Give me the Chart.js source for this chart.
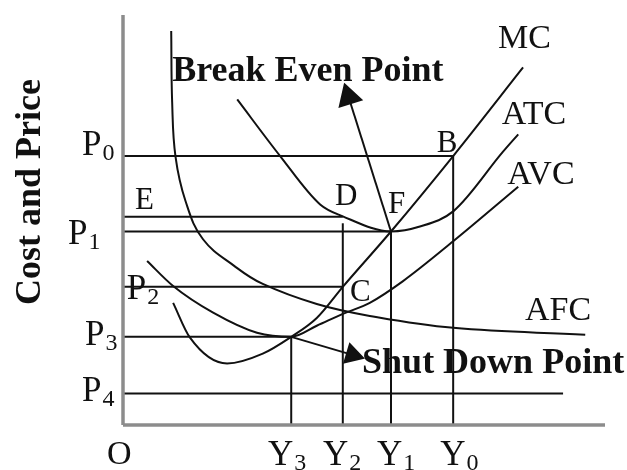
<!DOCTYPE html>
<html lang="en">
<head>
  <meta charset="UTF-8" />
  <title>Break Even and Shut Down Point</title>
  <script src="https://cdn.jsdelivr.net/npm/chart.js"></script>
  <style>
    html, body { margin: 0; padding: 0; background: #fff; }
    #wrap { width: 627px; height: 470px; }
  </style>
</head>
<body>
  <div id="wrap"><canvas id="costChart" width="627" height="470"></canvas></div>

  <script>
    // price levels (cost axis) and output levels (quantity axis)
    const priceLabels = ['P0', 'P1', 'P2', 'P3', 'P4'];
    const priceLevels = [65.6, 47.2, 33.7, 21.5, 7.7];
    const outputLabels = ['Y3', 'Y2', 'Y1', 'Y0'];
    const outputLevels = [34.9, 45.6, 55.6, 68.5];
    const levelE = 50.8;
    const p4End = 91.3;
    const y2Top = 49.2;

    // cost curves
    const mcX = [10.4, 13.9, 21.6, 29.0, 34.9, 40.2, 45.6, 55.6, 68.5, 83.0];
    const mcY = [29.8, 21.3, 15.0, 17.4, 21.5, 26.1, 33.7, 47.2, 65.6, 87.2];

    const atcX = [23.7, 32.6, 40.9, 45.6, 55.6, 61.6, 68.5, 78.8, 82.0];
    const atcY = [79.4, 65.6, 53.8, 50.9, 47.2, 48.4, 52.1, 66.6, 70.9];

    const avcX = [5.0, 10.4, 18.7, 27.8, 34.9, 40.2, 45.6, 51.2, 58.1, 68.5, 82.0];
    const avcY = [40.0, 33.9, 27.4, 22.5, 21.5, 24.2, 27.1, 29.8, 35.1, 44.8, 58.1];

    const afcX = [10.0, 10.2, 10.9, 13.0, 16.6, 23.2, 29.0, 40.2, 51.2, 68.5, 95.9];
    const afcY = [96.1, 78.7, 65.4, 54.5, 45.3, 38.7, 34.4, 29.5, 26.6, 23.7, 22.0];

    // arrows: from the marked point to the arrow head
    const breakEvenArrow = [[55.6, 47.2], [46.8, 80.0]];
    const shutDownArrow = [[34.9, 21.5], [47.6, 17.1]];

    const ink = '#111';
    const serif = '"Liberation Serif", "Times New Roman", serif';

    function pts(xs, ys) {
      return xs.map((x, i) => ({ x: x, y: ys[i] }));
    }

    function seg(x1, y1, x2, y2, color, width) {
      return {
        data: [{ x: x1, y: y1 }, { x: x2, y: y2 }],
        showLine: true,
        borderColor: color || ink,
        borderWidth: width || 2,
        pointRadius: 0,
        clip: false
      };
    }

    function curve(xs, ys, smooth) {
      const ds = {
        data: pts(xs, ys),
        showLine: true,
        borderColor: ink,
        borderWidth: 2,
        pointRadius: 0,
        clip: false
      };
      if (smooth) ds.tension = 0.4;
      else ds.cubicInterpolationMode = 'monotone';
      return ds;
    }

    function arrow(a, r) {
      const dx = a[1][0] - a[0][0];
      const dy = a[1][1] - a[0][1];
      // screen angle, x unit ~4.82px and y unit ~4.13px
      const ang = Math.atan2(dx * 4.82, dy * 4.13) * 180 / Math.PI;
      return {
        data: [{ x: a[0][0], y: a[0][1] }, { x: a[1][0], y: a[1][1] }],
        showLine: true,
        borderColor: ink,
        borderWidth: 2,
        backgroundColor: ink,
        pointBorderColor: ink,
        pointStyle: 'triangle',
        pointRadius: [0, r],
        pointRotation: [0, ang],
        clip: false
      };
    }

    const datasets = [];

    // axes
    datasets.push(seg(0, 0, 0, 100, '#8c8c8c', 3.5));
    datasets.push(seg(0, 0, 100, 0, '#8c8c8c', 3.5));

    // horizontal guide lines
    datasets.push(seg(0, priceLevels[0], outputLevels[3], priceLevels[0]));
    datasets.push(seg(0, levelE, outputLevels[1], levelE));
    datasets.push(seg(0, priceLevels[1], outputLevels[2], priceLevels[1]));
    datasets.push(seg(0, priceLevels[2], outputLevels[1], priceLevels[2]));
    datasets.push(seg(0, priceLevels[3], outputLevels[0], priceLevels[3]));
    datasets.push(seg(0, priceLevels[4], p4End, priceLevels[4]));

    // vertical guide lines
    datasets.push(seg(outputLevels[0], 0, outputLevels[0], priceLevels[3]));
    datasets.push(seg(outputLevels[1], 0, outputLevels[1], y2Top));
    datasets.push(seg(outputLevels[2], 0, outputLevels[2], priceLevels[1]));
    datasets.push(seg(outputLevels[3], 0, outputLevels[3], priceLevels[0]));

    // curves
    datasets.push(curve(mcX, mcY));
    datasets.push(curve(atcX, atcY));
    datasets.push(curve(avcX, avcY));
    datasets.push(curve(afcX, afcY, true));

    // arrows
    datasets.push(arrow(breakEvenArrow, 13));
    datasets.push(arrow(shutDownArrow, 11));

    // text placed in axis units (baseline, left edge)
    const texts = [
      { t: 'MC', x: 77.8, y: 92.0, size: 34 },
      { t: 'ATC', x: 78.6, y: 73.4, size: 34 },
      { t: 'AVC', x: 79.7, y: 58.8, size: 34 },
      { t: 'AFC', x: 83.4, y: 25.7, size: 34 },
      { t: 'B', x: 65.1, y: 66.6, size: 31 },
      { t: 'D', x: 44.0, y: 53.75, size: 31 },
      { t: 'E', x: 2.5, y: 52.8, size: 31 },
      { t: 'F', x: 55.0, y: 51.6, size: 31 },
      { t: 'C', x: 47.1, y: 30.3, size: 31 },
      { t: 'Break Even Point', x: 10.2, y: 83.8, size: 36, bold: true },
      { t: 'Shut Down Point', x: 49.6, y: 12.8, size: 36, bold: true },
      { t: 'O', x: -3.3, y: -9.4, size: 34 }
    ];
    const priceTextPos = [[-8.5, 65.9], [-11.4, 44.1], [0.8, 30.75], [-7.9, 19.6], [-8.5, 5.8]];
    const outputTextPos = [[30.1, -9.7], [41.5, -9.7], [52.7, -9.7], [65.8, -9.7]];

    priceLabels.forEach((lab, i) => {
      texts.push({ t: lab[0], sub: lab.slice(1), x: priceTextPos[i][0], y: priceTextPos[i][1], size: 35 });
    });
    outputLabels.forEach((lab, i) => {
      texts.push({ t: lab[0], sub: lab.slice(1), x: outputTextPos[i][0], y: outputTextPos[i][1], size: 35 });
    });

    const textPlugin = {
      id: 'diagramText',
      afterDatasetsDraw(chart) {
        const ctx = chart.ctx;
        const sx = chart.scales.x;
        const sy = chart.scales.y;
        ctx.save();
        ctx.fillStyle = ink;
        ctx.textAlign = 'left';
        ctx.textBaseline = 'alphabetic';
        texts.forEach(item => {
          const px = sx.getPixelForValue(item.x);
          const py = sy.getPixelForValue(item.y);
          ctx.font = (item.bold ? 'bold ' : '') + item.size + 'px ' + serif;
          ctx.fillText(item.t, px, py);
          if (item.sub) {
            const w = ctx.measureText(item.t).width;
            ctx.font = Math.round(item.size * 0.68) + 'px ' + serif;
            ctx.fillText(item.sub, px + w + 1, py + 5);
          }
        });

        // rotated axis title
        ctx.translate(40, 192);
        ctx.rotate(-Math.PI / 2);
        ctx.textAlign = 'center';
        ctx.font = 'bold 36px ' + serif;
        ctx.fillText('Cost and Price', 0, 0);
        ctx.restore();
      }
    };

    new Chart(document.getElementById('costChart'), {
      type: 'scatter',
      data: { datasets: datasets },
      options: {
        responsive: false,
        animation: false,
        devicePixelRatio: 1,
        layout: { padding: { left: 123, right: 22, top: 12, bottom: 45 } },
        scales: {
          x: { type: 'linear', min: 0, max: 100, display: false },
          y: { type: 'linear', min: 0, max: 100, display: false }
        },
        plugins: {
          legend: { display: false },
          tooltip: { enabled: false }
        }
      },
      plugins: [textPlugin]
    });
  </script>
</body>
</html>
